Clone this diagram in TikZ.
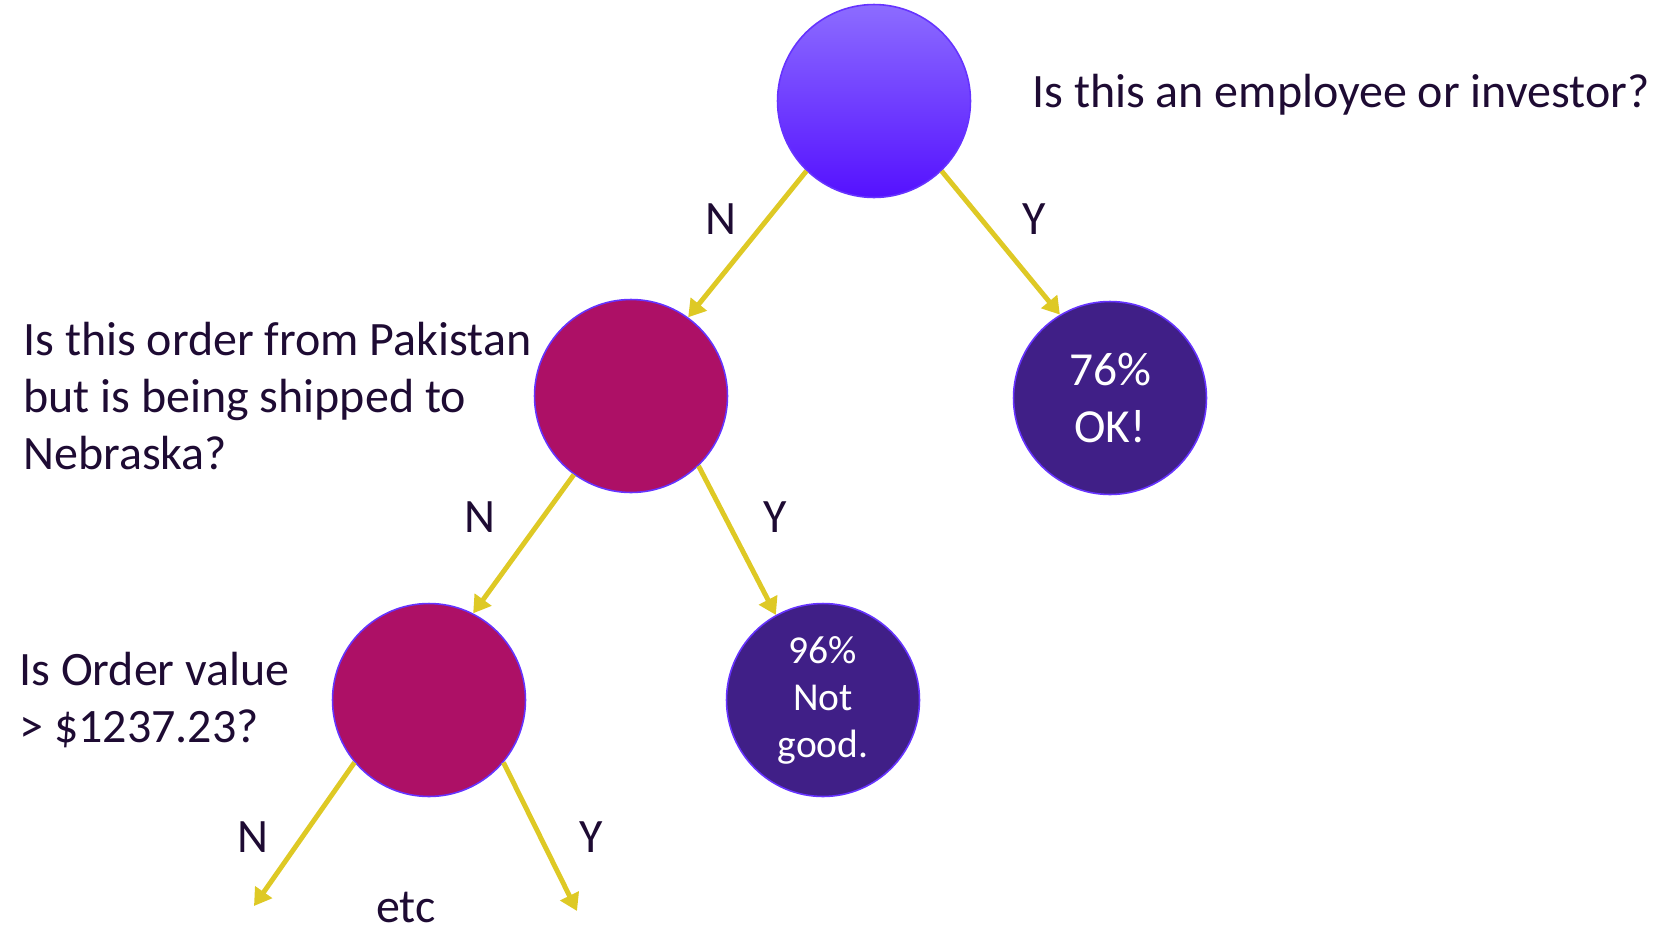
\documentclass[tikz,border=0pt]{standalone}
\usepackage{fontspec}
\setmainfont{Carlito}
\usetikzlibrary{arrows.meta}
\definecolor{inkc}{HTML}{1E0B33}
\definecolor{rimc}{HTML}{6633FF}
\definecolor{topc}{HTML}{8C6CFF}
\definecolor{botc}{HTML}{5511FF}
\definecolor{askc}{HTML}{AD1066}
\definecolor{endc}{HTML}{401F87}
\definecolor{edgec}{HTML}{DEC925}

\begin{document}
\begin{tikzpicture}[x=0.02cm, y=-0.02cm,
    every node/.style={font=\fontsize{27.3}{32.4}\selectfont, text=inkc},
    ball/.style={circle, draw=rimc, line width=0.9pt, minimum size=3.86cm, inner sep=0pt},
    root/.style={ball, top color=topc, bottom color=botc},
    ask/.style={ball, fill=askc},
    leaf/.style={ball, fill=endc, text=white, align=center},
    q/.style={anchor=west, align=left, inner sep=0pt},
    yn/.style={inner sep=0pt},
    edge/.style={-{Triangle[length=0.34cm, width=0.4cm]}, line width=2.8pt, edgec},
]
\useasboundingbox (0,0) rectangle (1657,934);

% ---------------------------------------------------------- nodes
\node[root] (top) at (874,101) {};
\node[ask]  (pak) at (631,396) {};
\node[leaf, font=\fontsize{27}{32.4}\selectfont] (ok) at (1110,398) {76\%\\OK!};
\node[ask]  (ord) at (429,700) {};
\node[leaf, font=\fontsize{22.5}{26.8}\selectfont] (bad) at (823,700) {96\%\\Not\\good.};

% ---------------------------------------------------------- questions
\node[q] (qtop) at (1032,95) {Is this an employee or investor?};
\node[q] (qpak) at (23,396) {Is this order from Pakistan\\but is being shipped to\\Nebraska?};
\node[q] (qord) at (19,700) {Is Order value\\> \$1237.23?};

% ---------------------------------------------------------- open ends
\coordinate (endn) at (254,906);
\coordinate (endy) at (577,911);

% ---------------------------------------------------------- edges
\draw[edge] (top.226) -- (pak.54);
\draw[edge] (top.-46) -- (ok.121);
\draw[edge] (pak.234) -- (ord.63);
\draw[edge] (pak.-46) -- (bad.119);
\draw[edge] (ord.220) -- (endn);
\draw[edge] (ord.-40) -- (endy);

% ---------------------------------------------------------- answers
\node[yn] (n1) at (721,219) {N};
\node[yn] (y1) at (1034,219) {Y};
\node[yn] (n2) at (480,517) {N};
\node[yn] (y2) at (775,517) {Y};
\node[yn] (n3) at (253,837) {N};
\node[yn] (y3) at (591,837) {Y};
\node[yn, anchor=base] (etc) at (406,922) {etc};

\end{tikzpicture}
\end{document}
